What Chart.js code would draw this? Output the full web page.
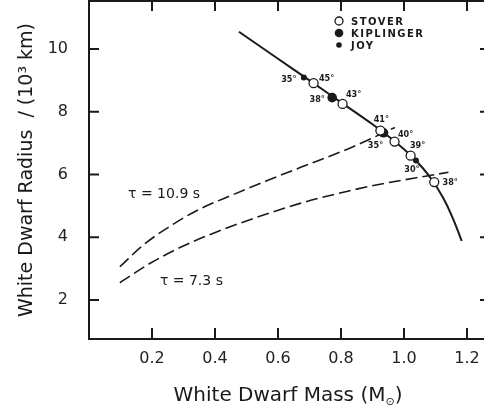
<!DOCTYPE html>
<html>
<head>
<meta charset="utf-8">
<script src="https://cdn.jsdelivr.net/npm/chart.js@4/dist/chart.umd.min.js"></script>
<style>
  html, body { margin: 0; padding: 0; background: #fff; overflow: hidden; }
  #wrap { position: relative; width: 494px; height: 414px; }
</style>
</head>
<body>
<div id="wrap"><canvas id="wdChart" width="494" height="414"></canvas></div>
<script>
// mass-radius relation (solid curve)
const relationMass   = [0.476, 0.60, 0.70, 0.80, 0.90, 0.97, 1.02, 1.06, 1.093, 1.125, 1.151, 1.172, 1.183];
const relationRadius = [10.55, 9.69, 9.00, 8.30, 7.60, 7.06, 6.62, 6.20, 5.77, 5.24, 4.70, 4.18, 3.88];

// constant-period curves (dashed)
const tauHighMass   = [0.098, 0.172, 0.268, 0.352, 0.458, 0.564, 0.670, 0.818, 0.903, 0.971];
const tauHighRadius = [3.06, 3.75, 4.42, 4.90, 5.36, 5.80, 6.22, 6.80, 7.18, 7.50];
const tauLowMass    = [0.098, 0.194, 0.299, 0.405, 0.511, 0.670, 0.818, 0.924, 1.030, 1.141];
const tauLowRadius  = [2.55, 3.17, 3.72, 4.17, 4.56, 5.08, 5.46, 5.69, 5.88, 6.07];
const tauLabels = ['\u03c4 = 10.9 s', '\u03c4 = 7.3 s'];
const tauLabelMass = [0.124, 0.225];
const tauLabelRadius = [5.38, 2.58];

// observed stars, with inclination angles
const stoverMass   = [0.713, 0.805, 0.925, 0.970, 1.021, 1.096];
const stoverRadius = [8.91, 8.25, 7.40, 7.05, 6.60, 5.76];
const stoverAngle  = ['45°', '43°', '41°', '40°', '39°', '38°'];
const kiplingerMass   = [0.772, 0.935];
const kiplingerRadius = [8.45, 7.33];
const kiplingerAngle  = ['38°', '35°'];
const joyMass   = [0.682, 1.038];
const joyRadius = [9.09, 6.45];
const joyAngle  = ['35°', '30°'];

const seriesNames = ['STOVER', 'KIPLINGER', 'JOY'];
const xTicks = [0.2, 0.4, 0.6, 0.8, 1.0, 1.2];
const yTicks = [2, 4, 6, 8, 10];

// label nudges in pixels (dx, dy) for the angle annotations
const stoverNudge    = [[13, -5], [11, -9], [1, -11], [11, -7], [7, -10], [16, 1]];
const kiplingerNudge = [[-15, 2], [-8, 13]];
const joyNudge       = [[-15, 2], [-4, 9]];

const ink = '#1a1a1a';
const pts = (xs, ys) => xs.map((x, i) => ({x: x, y: ys[i]}));

// keep the plot box where we put it, no label overhang padding
const noPad = s => { s.paddingTop = 0; s.paddingBottom = 0; s.paddingLeft = 0; s.paddingRight = 0; };

const framePlugin = {
  id: 'frame',
  afterDraw(chart) {
    const {ctx, chartArea: a, scales: {x, y}} = chart;
    ctx.save();
    ctx.strokeStyle = ink;
    ctx.lineWidth = 2;
    ctx.strokeRect(a.left, a.top, a.right - a.left, a.bottom - a.top);

    // inward ticks on all four sides
    ctx.beginPath();
    xTicks.forEach(v => {
      const px = x.getPixelForValue(v);
      ctx.moveTo(px, a.bottom); ctx.lineTo(px, a.bottom - 11);
      ctx.moveTo(px, a.top); ctx.lineTo(px, a.top + 10);
    });
    yTicks.forEach(v => {
      const py = y.getPixelForValue(v);
      ctx.moveTo(a.left, py); ctx.lineTo(a.left + 10, py);
      ctx.moveTo(a.right, py); ctx.lineTo(a.right - 10, py);
    });
    ctx.stroke();

    // angle labels next to each star
    ctx.fillStyle = ink;
    ctx.font = 'bold 9px "DejaVu Sans Condensed", "DejaVu Sans"';
    ctx.textAlign = 'center';
    ctx.textBaseline = 'middle';
    const tag = (ms, rs, txt, nudge) => ms.forEach((m, i) => {
      ctx.fillText(txt[i], x.getPixelForValue(m) + nudge[i][0], y.getPixelForValue(rs[i]) + nudge[i][1]);
    });
    tag(stoverMass, stoverRadius, stoverAngle, stoverNudge);
    tag(kiplingerMass, kiplingerRadius, kiplingerAngle, kiplingerNudge);
    tag(joyMass, joyRadius, joyAngle, joyNudge);

    // curve labels
    ctx.font = '14px "DejaVu Sans"';
    ctx.textAlign = 'left';
    tauLabels.forEach((t, i) => {
      ctx.fillText(t, x.getPixelForValue(tauLabelMass[i]), y.getPixelForValue(tauLabelRadius[i]));
    });

    // legend
    const lx = 339, ly = [21, 33, 45];
    ctx.lineWidth = 1.3;
    ctx.beginPath(); ctx.arc(lx, ly[0], 4, 0, Math.PI * 2);
    ctx.fillStyle = '#fff'; ctx.fill(); ctx.stroke();
    ctx.fillStyle = ink;
    ctx.beginPath(); ctx.arc(lx, ly[1], 4.3, 0, Math.PI * 2); ctx.fill();
    ctx.beginPath(); ctx.arc(lx, ly[2], 2.8, 0, Math.PI * 2); ctx.fill();
    ctx.font = 'bold 10px "DejaVu Sans"';
    ctx.letterSpacing = '1.5px';
    seriesNames.forEach((n, i) => ctx.fillText(n, 351, ly[i] + 1));
    ctx.letterSpacing = '0px';

    // x-axis title with subscript sun symbol
    const head = 'White Dwarf Mass (M';
    const sub = '\u2299';
    ctx.font = '20px "DejaVu Sans"';
    const wHead = ctx.measureText(head).width;
    ctx.font = '11px "DejaVu Sans"';
    const wSub = ctx.measureText(sub).width;
    ctx.font = '20px "DejaVu Sans"';
    const wTail = ctx.measureText(')').width;
    let tx = 288 - (wHead + wSub + wTail) / 2;
    const ty = 396;
    ctx.fillText(head, tx, ty);
    tx += wHead;
    ctx.font = '11px "DejaVu Sans"';
    ctx.fillText(sub, tx, ty + 6);
    tx += wSub;
    ctx.font = '20px "DejaVu Sans"';
    ctx.fillText(')', tx, ty);
    ctx.restore();
  }
};

new Chart(document.getElementById('wdChart'), {
  type: 'scatter',
  data: {
    datasets: [
      {label: 'STOVER', data: pts(stoverMass, stoverRadius), pointRadius: 4.5,
        pointBackgroundColor: '#fff', pointBorderColor: ink, pointBorderWidth: 1.3, order: 0},
      {label: 'KIPLINGER', data: pts(kiplingerMass, kiplingerRadius), pointRadius: 4.8,
        pointBackgroundColor: ink, pointBorderColor: ink, pointBorderWidth: 0, order: 0},
      {label: 'JOY', data: pts(joyMass, joyRadius), pointRadius: 3,
        pointBackgroundColor: ink, pointBorderColor: ink, pointBorderWidth: 0, order: 0},
      {type: 'line', label: 'relation', data: pts(relationMass, relationRadius), borderColor: ink,
        borderWidth: 2, pointRadius: 0, fill: false, cubicInterpolationMode: 'monotone', order: 1},
      {type: 'line', label: tauLabels[0], data: pts(tauHighMass, tauHighRadius), borderColor: ink,
        borderWidth: 1.6, borderDash: [12, 5], pointRadius: 0, fill: false,
        cubicInterpolationMode: 'monotone', order: 1},
      {type: 'line', label: tauLabels[1], data: pts(tauLowMass, tauLowRadius), borderColor: ink,
        borderWidth: 1.6, borderDash: [12, 5], pointRadius: 0, fill: false,
        cubicInterpolationMode: 'monotone', order: 1}
    ]
  },
  options: {
    responsive: false,
    animation: false,
    devicePixelRatio: 1,
    layout: {autoPadding: false, padding: {top: 1, right: 4, left: 0, bottom: 0}},
    plugins: {legend: {display: false}, tooltip: {enabled: false}},
    scales: {
      x: {
        type: 'linear', min: 0, max: 1.273,
        afterBuildTicks: s => { s.ticks = xTicks.map(v => ({value: v})); },
        afterFit: s => { s.height = 75; noPad(s); },
        grid: {display: false, drawTicks: false},
        border: {display: false},
        ticks: {color: '#222', padding: 10, font: {family: 'DejaVu Sans', size: 16},
          callback: v => v.toFixed(1)}
      },
      y: {
        type: 'linear', min: 0.757, max: 11.53,
        afterBuildTicks: s => { s.ticks = yTicks.map(v => ({value: v})); },
        afterFit: s => { s.width = 89; noPad(s); },
        grid: {display: false, drawTicks: false},
        border: {display: false},
        ticks: {color: '#222', padding: 21, font: {family: 'DejaVu Sans', size: 16}},
        title: {display: true, text: 'White Dwarf Radius  / (10\u00b3 km)', color: ink,
          font: {family: 'DejaVu Sans', size: 19}, padding: {top: 16, bottom: 0}}
      }
    }
  },
  plugins: [framePlugin]
});
</script>
</body>
</html>
